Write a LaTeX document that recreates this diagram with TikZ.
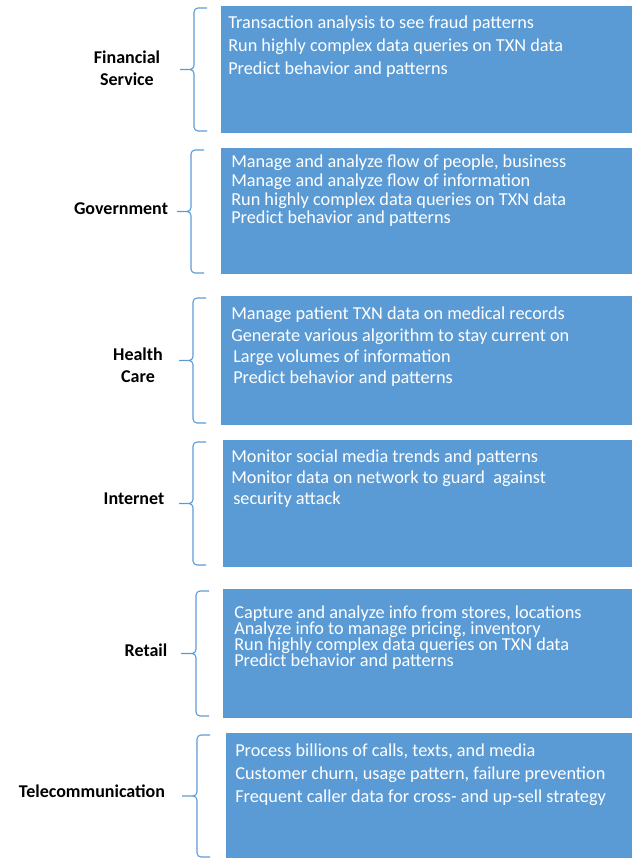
\documentclass[tikz,border=0pt]{standalone}
\usepackage{fontspec}
\setmainfont{Carlito}

\definecolor{cellblue}{HTML}{5B9BD5}
\newcommand{\firstline}{\rule{0pt}{11pt}}

\tikzset{
  sector/.style={font=\fontsize{13.5}{16.5}\selectfont\bfseries, align=center},
  usecase/.style={anchor=north west, text=white, align=left,
    font=\fontsize{13.7}{#1}\selectfont,
    execute at begin node={\lineskiplimit=-100pt\relax}},
  bracket/.style={draw=cellblue, line width=0.8pt, rounded corners=3pt},
}

\begin{document}
\begin{tikzpicture}[x=0.75pt, y=-0.75pt]
\tikzstyle{every node}+=[inner sep=0pt]
\useasboundingbox (0,0) rectangle (632,858);
% blue panels
\fill [cellblue] (221,6) rectangle (632,133);
\fill [cellblue] (221,148) rectangle (632,274);
\fill [cellblue] (221,296) rectangle (632,425);
\fill [cellblue] (223,440) rectangle (632,567);
\fill [cellblue] (223,589) rectangle (632,718);
\fill [cellblue] (226,733) rectangle (632,858);
% braces: top half into the tip, then tip down to the bottom end
\draw [bracket] (207,8) -- (194,8) -- (194,69.5) -- (180,69.5)
  (180,69.5) -- (194,69.5) -- (194,131) -- (207,131);
\draw [bracket] (204,150) -- (191,150) -- (191,211.5) -- (177,211.5)
  (177,211.5) -- (191,211.5) -- (191,273) -- (204,273);
\draw [bracket] (206,298) -- (193,298) -- (193,360.5) -- (179,360.5)
  (179,360.5) -- (193,360.5) -- (193,423) -- (206,423);
\draw [bracket] (206,442) -- (193,442) -- (193,503.5) -- (179,503.5)
  (179,503.5) -- (193,503.5) -- (193,565) -- (206,565);
\draw [bracket] (209,591) -- (196,591) -- (196,653.5) -- (181,653.5)
  (181,653.5) -- (196,653.5) -- (196,716) -- (209,716);
\draw [bracket] (210,735) -- (197,735) -- (197,796) -- (182,796)
  (182,796) -- (197,796) -- (197,857) -- (210,857);
% sector names
\node [sector] (fin) at (127,68) {Financial\\Service};
\node [sector] (gov) at (121,209) {Government};
\node [sector] (health) at (138,365) {Health\\Care};
\node [sector] (inet) at (134,499) {Internet};
\node [sector] (retail) at (146,650) {Retail};
\node [sector] (telco) at (92,791) {Telecommunication};
% what each sector does with the data
\node [usecase=16.9] (fin-uses) at (228,14) {\firstline Transaction analysis to see fraud patterns\\
  Run highly complex data queries on TXN data\\
  Predict behavior and patterns};
\node [usecase=14] (gov-uses) at (231,153) {\firstline Manage and analyze flow of people, business\\
  Manage and analyze flow of information\\
  Run highly complex data queries on TXN data\\
  Predict behavior and patterns};
\node [usecase=15.8] (health-uses) at (231,305) {\firstline Manage patient TXN data on medical records\\
  Generate various algorithm to stay current on\\
  \hspace{1.5pt}Large volumes of information\\
  \hspace{1.5pt}Predict behavior and patterns};
\node [usecase=15.5] (inet-uses) at (231,448) {\firstline Monitor social media trends and patterns\\
  Monitor data on network to guard\ \ against\\
  \hspace{1.5pt}security attack};
\node [usecase=12] (retail-uses) at (234,604) {\firstline Capture and analyze info from stores, locations\\
  Analyze info to manage pricing, inventory\\
  Run highly complex data queries on TXN data\\
  Predict behavior and patterns};
\node [usecase=16.9] (telco-uses) at (235,742) {\firstline Process billions of calls, texts, and media\\
  Customer churn, usage pattern, failure prevention\\
  Frequent caller data for cross- and up-sell strategy};
\end{tikzpicture}
\end{document}
